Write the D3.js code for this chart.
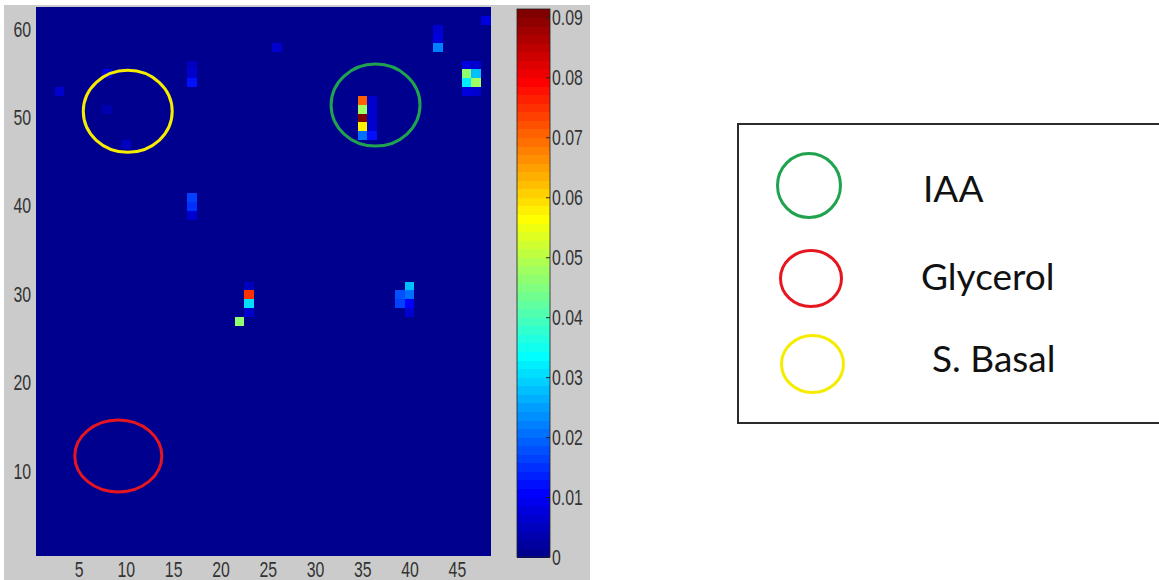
<!DOCTYPE html>
<html>
<head>
<meta charset="utf-8">
<script src="https://cdn.jsdelivr.net/npm/d3@7"></script>
<style>
  html, body { margin: 0; padding: 0; background: #ffffff; }
  svg { display: block; }
  .tick-label { font-family: "Liberation Sans", Arial, sans-serif; font-size: 22px; fill: #333333; }
  .legend-text { font-family: Lato, "Open Sans", sans-serif; font-size: 37px; fill: #111111; }
</style>
</head>
<body>
<svg id="chart" width="1159" height="580"></svg>
<script>
// Grid size of the image matrix (columns x rows)
const nCols = 48;
const nRows = 62;

// Non-zero cells of the matrix; every other cell is 0
const cellCols   = [35,     35,    35,     35,    35,    36,    36,    36,    36,    36,
                    23,     23,    22,     23,    23,
                    39,     40,    39,     40,    40,    40,
                    17,     17,    17,     17,    17,    17,
                    43,     43,    43,     46,    47,    46,    47,    46,    47,    46,    47,    48,
                    26,     3,     8,      8,     10];
const cellRows   = [52,     51,    50,     49,    48,    52,    51,    50,    49,    48,
                    30,     29,    27,     31,    28,
                    30,     31,    29,     30,    29,    28,
                    41,     40,    39,     54,    55,    56,
                    58,     59,    60,     55,    55,    54,    54,    56,    56,    53,    53,    61,
                    58,     53,    55,     51,    47];
const cellValues = [0.070,  0.048, 0.0914, 0.058, 0.021, 0.006, 0.007, 0.006, 0.006, 0.012,
                    0.075,  0.030, 0.046,  0.005, 0.006,
                    0.018,  0.028, 0.017,  0.020, 0.010, 0.006,
                    0.016,  0.015, 0.006,  0.012, 0.006, 0.005,
                    0.022,  0.008, 0.007,  0.047, 0.028, 0.032, 0.048, 0.008, 0.006, 0.008, 0.007, 0.008,
                    0.006,  0.007, 0.008,  0.004, 0.005];

// Highlighted regions drawn over the matrix (data units)
const regionNames  = ["IAA", "Glycerol", "S. Basal"];
const regionColors = ["#1fa34f", "#e5161f", "#f5ec00"];
const regionCx     = [36.4, 9.2, 10.2];
const regionCy     = [51.4, 11.7, 50.7];
const regionRx     = [4.7, 4.6, 4.7];
const regionRy     = [4.64, 4.07, 4.64];

// Tick labels
const xTicks  = [5, 10, 15, 20, 25, 30, 35, 40, 45];
const yTicks  = [10, 20, 30, 40, 50, 60];
const cbTicks = [0, 0.01, 0.02, 0.03, 0.04, 0.05, 0.06, 0.07, 0.08, 0.09];

// Build the full matrix
const matrix = [];
for (let r = 1; r <= nRows; r++) {
  for (let c = 1; c <= nCols; c++) matrix.push({ c, r, v: 0 });
}
cellCols.forEach((c, i) => {
  matrix[(cellRows[i] - 1) * nCols + (c - 1)].v = cellValues[i];
});
const vMin = 0;
const vMax = d3.max(cellValues);

// 64-entry jet colormap
const jetN = 64;
const jetMap = (() => {
  const n = Math.ceil(jetN / 4);
  const u = [];
  for (let k = 1; k <= n; k++) u.push(k / n);
  for (let k = 1; k < n; k++) u.push(1);
  for (let k = n; k >= 1; k--) u.push(k / n);
  const gOff = Math.ceil(n / 2) - (jetN % 4 === 1 ? 1 : 0);
  const at = (idx) => (idx >= 1 && idx <= u.length ? u[idx - 1] : 0);
  const out = [];
  for (let i = 1; i <= jetN; i++) {
    const g = at(i - gOff), r = at(i - gOff - n), b = at(i - gOff + n);
    out.push(d3.rgb(Math.round(r * 255), Math.round(g * 255), Math.round(b * 255)).formatHex());
  }
  return out;
})();
const colorIndex = d3.scaleQuantize().domain([vMin, vMax]).range(d3.range(jetN));
const colorOf = (v) => jetMap[Math.min(jetN - 1, colorIndex(v))];

const svg = d3.select("#chart");

// Figure background
svg.append("rect").attr("x", 4).attr("y", 5).attr("width", 586).attr("height", 575).attr("fill", "#cbcbcb");

// Scales
const x = d3.scaleLinear().domain([0.5, nCols + 0.5]).range([36, 490]);
const y = d3.scaleLinear().domain([0.5, nRows + 0.5]).range([555, 7]);

// Matrix cells
svg.append("g").attr("shape-rendering", "crispEdges")
  .selectAll("rect").data(matrix).join("rect")
  .attr("x", d => x(d.c - 0.5))
  .attr("y", d => y(d.r + 0.5))
  .attr("width", d => x(d.c + 0.5) - x(d.c - 0.5) + 0.5)
  .attr("height", d => y(d.r - 0.5) - y(d.r + 0.5) + 0.5)
  .attr("fill", d => colorOf(d.v));

// Highlight ellipses
svg.append("g").selectAll("ellipse").data(regionNames).join("ellipse")
  .attr("cx", (d, i) => x(regionCx[i]))
  .attr("cy", (d, i) => y(regionCy[i]))
  .attr("rx", (d, i) => x(regionRx[i]) - x(0))
  .attr("ry", (d, i) => y(0) - y(regionRy[i]))
  .attr("fill", "none")
  .attr("stroke", (d, i) => regionColors[i])
  .attr("stroke-width", 3);

// Narrow tick lettering: horizontally compressed Liberation Sans
const squeeze = 0.72;
function styleTicks(g, xOffset) {
  g.select(".domain").remove();
  g.selectAll("text")
    .attr("class", "tick-label")
    .attr("fill", null)
    .attr("x", xOffset / squeeze)
    .attr("transform", `scale(${squeeze},1)`);
}

// Axes
const xAxis = svg.append("g").attr("transform", "translate(0,555)")
  .call(d3.axisBottom(x).tickValues(xTicks).tickSize(0).tickPadding(6));
styleTicks(xAxis, 0);
const yAxis = svg.append("g").attr("transform", "translate(36,0)")
  .call(d3.axisLeft(y).tickValues(yTicks).tickSize(0));
styleTicks(yAxis, -5);

// Colorbar
const cbX0 = 517, cbX1 = 550;
const cb = d3.scaleLinear().domain([vMin, vMax]).range([557, 9]);
const cbSteps = d3.range(jetN);
svg.append("g").attr("shape-rendering", "crispEdges")
  .selectAll("rect").data(cbSteps).join("rect")
  .attr("x", cbX0)
  .attr("width", cbX1 - cbX0)
  .attr("y", i => cb(vMin + (i + 1) * (vMax - vMin) / jetN))
  .attr("height", i => cb(vMin + i * (vMax - vMin) / jetN) - cb(vMin + (i + 1) * (vMax - vMin) / jetN) + 0.5)
  .attr("fill", i => jetMap[i]);
svg.append("rect").attr("x", cbX0).attr("y", 9).attr("width", cbX1 - cbX0).attr("height", 548)
  .attr("fill", "none").attr("stroke", "#222").attr("stroke-width", 0.8);

const cbAxis = svg.append("g").attr("transform", `translate(${cbX1},0)`)
  .call(d3.axisRight(cb).tickValues(cbTicks).tickSizeInner(-4).tickSizeOuter(0)
    .tickFormat(d => d === 0 ? "0" : d.toFixed(2)));
styleTicks(cbAxis, 2);
cbAxis.selectAll("line").attr("stroke", "#222");

// Legend box
const legend = svg.append("g");
legend.append("rect").attr("x", 738).attr("y", 124).attr("width", 430).attr("height", 299)
  .attr("fill", "#ffffff").attr("stroke", "#2b2b2b").attr("stroke-width", 2);

const legendCx = [809, 811, 812.5];
const legendCy = [185.5, 278.5, 364];
const legendRx = [31.5, 30.5, 31];
const legendRy = [32, 28, 28.5];
const legendTx = [923, 921, 932];
const legendTy = [202, 290, 372];

legend.selectAll("ellipse").data(regionNames).join("ellipse")
  .attr("cx", (d, i) => legendCx[i]).attr("cy", (d, i) => legendCy[i])
  .attr("rx", (d, i) => legendRx[i]).attr("ry", (d, i) => legendRy[i])
  .attr("fill", "none").attr("stroke", (d, i) => regionColors[i]).attr("stroke-width", 3);

legend.selectAll("text").data(regionNames).join("text")
  .attr("class", "legend-text")
  .attr("x", (d, i) => legendTx[i]).attr("y", (d, i) => legendTy[i])
  .text(d => d);
</script>
</body>
</html>
